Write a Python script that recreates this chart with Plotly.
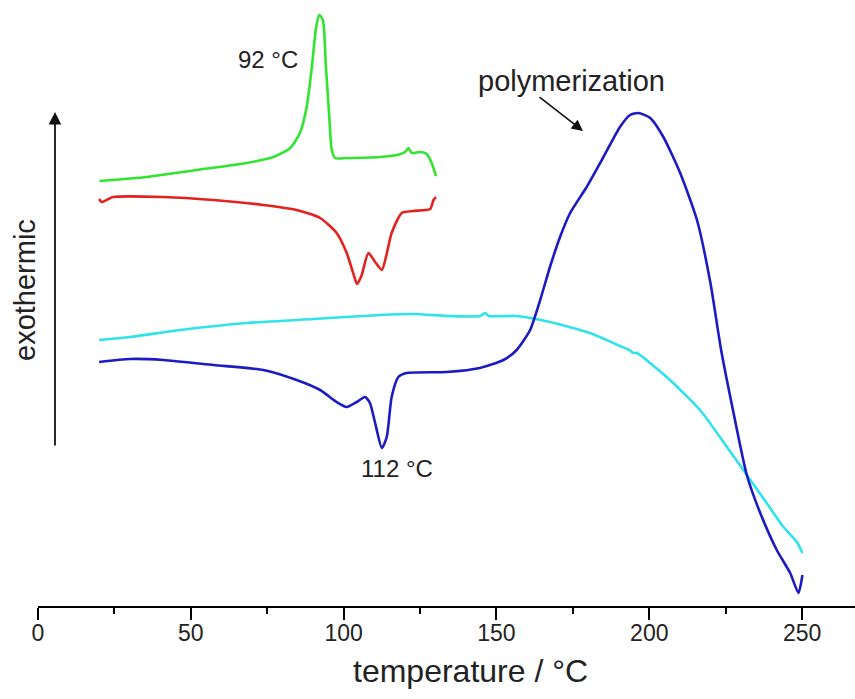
import plotly.graph_objects as go

# DSC traces: temperature (°C) vs heat flow (arbitrary units, exothermic up)
green_T = [20.1, 35.6, 51.9, 68.3, 77.0, 82.5, 85.7, 87.9, 89.6, 91.0, 92.0, 93.2, 94.2, 95.3, 96.1, 97.2,
           101.0, 111.9, 117.4, 120.1, 121.2, 122.3, 125.0, 127.2, 128.8, 130.2]
green_h = [425, 429, 436, 443, 449, 458, 473, 499, 539, 579, 591, 586, 539, 489, 456, 448,
           448, 449, 451, 454, 458, 453, 454, 452, 443, 430]

red_T = [20.0, 20.8, 24.6, 41.0, 57.4, 73.7, 84.6, 92.3, 97.7, 101.0, 103.0, 104.4, 105.8, 108.1,
         110.3, 112.5, 114.0, 115.7, 119.0, 122.8, 128.3, 129.4, 130.2]
red_h = [407, 404, 409, 409, 406, 401, 396, 388, 373, 353, 334, 322, 330, 353,
         344, 336, 351, 373, 393, 395, 397, 406, 409]

cyan_T = [20.0, 30.1, 46.5, 68.3, 90.1, 111.9, 122.8, 134.8, 144.6, 146.3, 147.5, 156.6, 167.5,
          180.6, 190.4, 193.5, 194.8, 195.9, 205.7, 216.6, 225.4, 231.9, 238.4, 243.9, 248.3, 250.1]
cyan_h = [266, 269, 276, 283, 287, 291, 292, 290, 290, 293, 290, 290, 284,
          273, 260, 256, 253, 253, 229, 196, 159, 131, 103, 79, 64, 53]

blue_T = [20.0, 30.1, 41.0, 57.4, 73.7, 84.6, 92.3, 97.7, 101.0, 104.3, 107.0, 108.6, 110.3, 112.5,
          114.1, 115.7, 117.9, 120.6, 133.7, 144.6, 152.3, 156.6, 161.0, 164.3, 167.5, 170.8, 174.1,
          179.5, 185.0, 190.4, 193.7, 196.4, 200.3, 204.6, 210.1, 215.6, 220.0, 223.5, 227.5, 231.9,
          236.3, 241.7, 246.1, 248.8, 250.1]
blue_h = [244, 247, 246, 241, 236, 226, 216, 204, 199, 204, 209, 203, 183, 158,
          169, 209, 229, 233, 234, 238, 246, 256, 276, 306, 339, 369, 393,
          419, 449, 479, 491, 493, 488, 469, 433, 386, 323, 256, 194, 131,
          93, 56, 33, 13, 31]

x_ticks = [0, 50, 100, 150, 200, 250]

FONT = "Liberation Sans, Arial, sans-serif"
TXT = "#222222"

fig = go.Figure()
for T, h, col in [(green_T, green_h, "#30e430"), (red_T, red_h, "#e3211f"),
                  (cyan_T, cyan_h, "#2ee3ea"), (blue_T, blue_h, "#1b1bc6")]:
    fig.add_trace(go.Scatter(x=T, y=h, mode="lines",
                             line=dict(color=col, width=2.6, shape="spline", smoothing=0.6),
                             showlegend=False, hoverinfo="skip"))

fig.update_layout(
    width=855, height=699,
    margin=dict(l=38, r=0, t=0, b=93),
    paper_bgcolor="white", plot_bgcolor="white",
    font=dict(family=FONT, color=TXT),
    xaxis=dict(range=[0, 267.3], showgrid=False, zeroline=False,
               showline=True, linecolor="black", linewidth=2,
               ticks="outside", ticklen=12, tickwidth=2, tickcolor="black",
               tickvals=x_ticks, ticktext=[str(v) for v in x_ticks],
               tickfont=dict(size=23, family=FONT, color=TXT), ticklabelstandoff=-7,
               minor=dict(dtick=25, tick0=0, ticks="outside", ticklen=6, tickwidth=1.5, tickcolor="black")),
    yaxis=dict(range=[0, 606], visible=False),
)

# text labels (data coords inside the plot, paper coords outside it)
fig.add_annotation(x=85.7, y=547, text="92 °C", xanchor="right", yanchor="middle",
                   showarrow=False, font=dict(size=24, family=FONT, color=TXT))
fig.add_annotation(x=117.5, y=138, text="112 °C", xanchor="center", yanchor="middle",
                   showarrow=False, font=dict(size=24, family=FONT, color=TXT))
fig.add_annotation(x=174.4, y=525, text="polymerization", xanchor="center", yanchor="middle",
                   showarrow=False, font=dict(size=29, family=FONT, color=TXT))
fig.add_annotation(xref="paper", yref="paper", x=-0.0159, y=0.5215, text="exothermic", textangle=-90,
                   xanchor="center", yanchor="middle",
                   showarrow=False, font=dict(size=29, family=FONT, color=TXT))
fig.add_annotation(xref="paper", yref="paper", x=0.529, y=-0.1073, text="temperature / °C",
                   xanchor="center", yanchor="middle",
                   showarrow=False, font=dict(size=32, family=FONT, color=TXT))

# arrows
fig.add_annotation(x=178.3, y=475, ax=163.6, ay=510, xref="x", yref="y", axref="x", ayref="y",
                   text="", showarrow=True, arrowhead=2, arrowsize=1.4, arrowwidth=1.6, arrowcolor="#111111")
fig.add_annotation(x=5.56, y=494, ax=5.56, ay=159, xref="x", yref="y", axref="x", ayref="y",
                   text="", showarrow=True, arrowhead=2, arrowsize=1.4, arrowwidth=1.8, arrowcolor="#111111")

fig.write_html("out.html", config={"displayModeBar": False},
               post_script="document.body.style.margin='0px';")
